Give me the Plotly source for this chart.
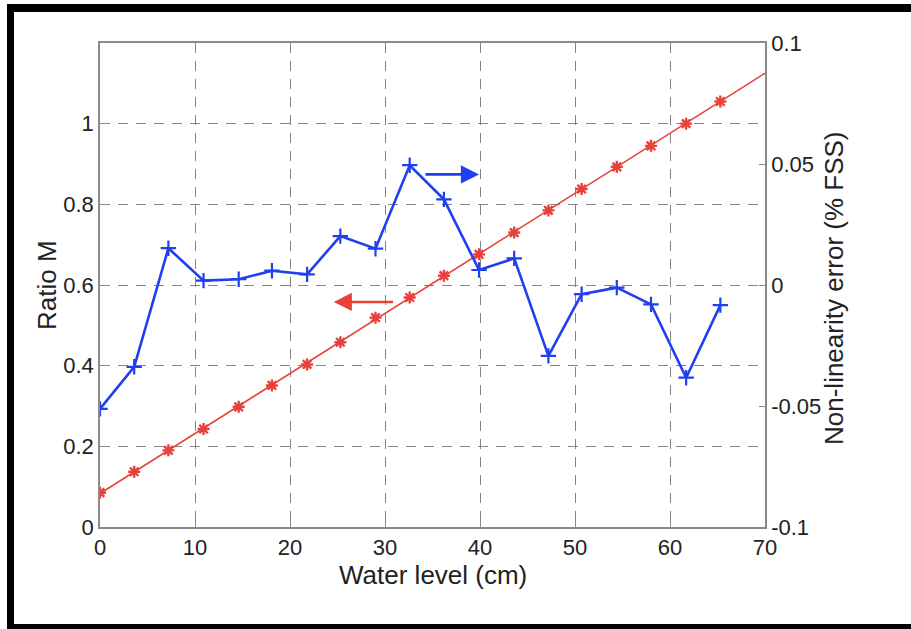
import plotly.graph_objects as go

# ---- data ----
water_level = [0.0, 3.6, 7.2, 10.9, 14.6, 18.1, 21.8, 25.3, 29.0, 32.6,
               36.2, 39.9, 43.6, 47.2, 50.7, 54.4, 58.0, 61.7, 65.3]
ratio_m = [0.085, 0.137, 0.190, 0.243, 0.298, 0.351, 0.403, 0.458, 0.519, 0.569,
           0.623, 0.676, 0.730, 0.785, 0.838, 0.893, 0.945, 1.000, 1.055]
nonlin_err = [-0.0512, -0.0338, 0.0152, 0.0018, 0.0024, 0.0059, 0.0044, 0.0202, 0.0150, 0.0495,
              0.0354, 0.0062, 0.0110, -0.0293, -0.0038, -0.0011, -0.0080, -0.0383, -0.0083]
fit_x = [0.0, 70.0]
fit_y = [0.083, 1.125]

x_ticks = [0, 10, 20, 30, 40, 50, 60, 70]
y_left_ticks = [0, 0.2, 0.4, 0.6, 0.8, 1.0]
y_left_labels = ["0", "0.2", "0.4", "0.6", "0.8", "1"]
y_right_ticks = [-0.1, -0.05, 0, 0.05, 0.1]
y_right_labels = ["-0.1", "-0.05", "0", "0.05", "0.1"]

x_title = "Water level (cm)"
y_left_title = "Ratio M"
y_right_title = "Non-linearity error (% FSS)"

# arrows: (tail x, head x, y)
blue_arrow = (34.1, 39.9, 0.0457)
red_arrow = (31.0, 24.6, 0.558)

RED = "#e8413a"
BLUE = "#1f3ff0"
AX = "#8a8a8a"
GRID = "#858585"
FONT = "Liberation Sans, Arial, sans-serif"

fig = go.Figure()
fig.add_trace(go.Scatter(x=fit_x, y=fit_y, mode="lines",
                         line=dict(color=RED, width=1.6), hoverinfo="skip",
                         showlegend=False))
fig.add_trace(go.Scatter(x=water_level, y=ratio_m, mode="markers",
                         marker=dict(symbol="asterisk", size=10,
                                     line=dict(color=RED, width=2.4)),
                         showlegend=False))
fig.add_trace(go.Scatter(x=water_level, y=nonlin_err, mode="lines+markers", yaxis="y2",
                         line=dict(color=BLUE, width=2.6),
                         marker=dict(symbol="cross-thin", size=11,
                                     line=dict(color=BLUE, width=2.2)),
                         showlegend=False))

fig.add_annotation(x=blue_arrow[1], y=blue_arrow[2], ax=blue_arrow[0], ay=blue_arrow[2],
                   xref="x", yref="y2", axref="x", ayref="y2", text="", showarrow=True,
                   arrowhead=2, arrowsize=1.4, arrowwidth=2.6, arrowcolor=BLUE)
fig.add_annotation(x=red_arrow[1], y=red_arrow[2], ax=red_arrow[0], ay=red_arrow[2],
                   xref="x", yref="y", axref="x", ayref="y", text="", showarrow=True,
                   arrowhead=2, arrowsize=1.4, arrowwidth=2.6, arrowcolor=RED)

# pixel -> paper helpers (plot area spans px x 100..765, y 43..527)
def px2paper_x(p):
    return (p - 100) / 665.0

def px2paper_y(p):
    return (527 - p) / 484.0

# axis titles as annotations
fig.add_annotation(x=px2paper_x(432.5), y=px2paper_y(575), xref="paper", yref="paper",
                   text=x_title, showarrow=False, font=dict(size=26),
                   xanchor="center", yanchor="middle")
fig.add_annotation(x=px2paper_x(47), y=px2paper_y(285), xref="paper", yref="paper",
                   text=y_left_title, showarrow=False, font=dict(size=26), textangle=-90,
                   xanchor="center", yanchor="middle")
fig.add_annotation(x=px2paper_x(834), y=px2paper_y(288), xref="paper", yref="paper",
                   text=y_right_title, showarrow=False, font=dict(size=26), textangle=-90,
                   xanchor="center", yanchor="middle")

# black frame pieces
frame = [(7, 4, 911, 12), (7, 4, 14, 629), (7, 624, 911, 629)]
for x0, y0, x1, y1 in frame:
    fig.add_shape(type="rect", xref="paper", yref="paper",
                  x0=px2paper_x(x0), x1=px2paper_x(x1),
                  y0=px2paper_y(y0), y1=px2paper_y(y1),
                  fillcolor="black", line=dict(width=0), layer="above")

fig.update_layout(
    width=911, height=629,
    margin=dict(l=100, r=146, t=43, b=102),
    paper_bgcolor="white", plot_bgcolor="white",
    font=dict(family=FONT, size=22, color="#222222"),
    xaxis=dict(range=[0, 70], tickvals=x_ticks, showline=True, linecolor=AX, linewidth=1.5,
               mirror="ticks", ticks="inside", ticklen=6, tickcolor=AX,
               showgrid=True, gridcolor=GRID, gridwidth=1.3, griddash="10px,8px",
               zeroline=False),
    yaxis=dict(range=[0, 1.2], tickvals=y_left_ticks, ticktext=y_left_labels,
               showline=True, linecolor=AX, linewidth=1.5, ticks="inside", ticklen=6,
               tickcolor=AX, showgrid=True, gridcolor=GRID, gridwidth=1.3,
               griddash="10px,8px", zeroline=False),
    yaxis2=dict(range=[-0.1, 0.1], tickvals=y_right_ticks, ticktext=y_right_labels,
                overlaying="y", side="right", showline=True, linecolor=AX, linewidth=1.5,
                ticks="inside", ticklen=6, tickcolor=AX, showgrid=False, zeroline=False),
)

fig.write_html("out.html", config={"displayModeBar": False},
               post_script="document.body.style.margin='0';document.body.style.padding='0';")
